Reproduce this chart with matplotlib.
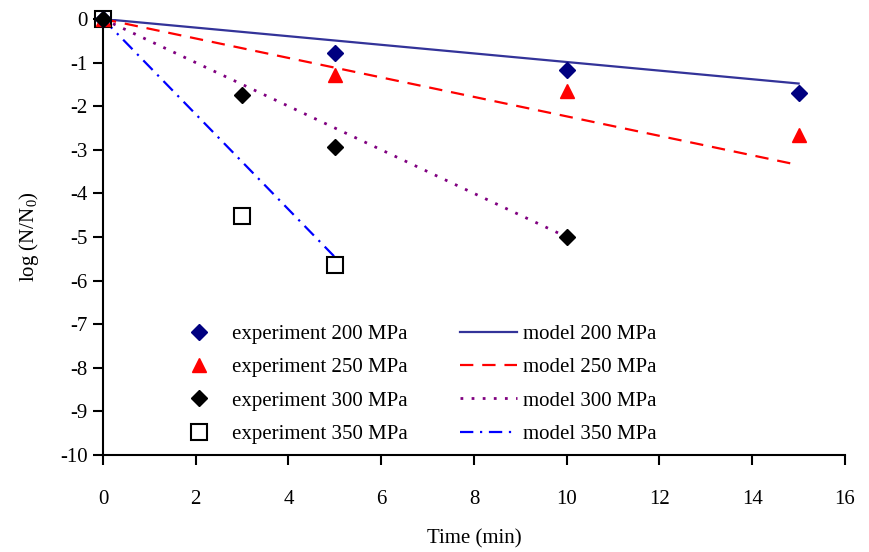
import matplotlib
matplotlib.use("Agg")
import matplotlib.pyplot as plt

plt.rcParams['font.family'] = ['Liberation Serif', 'DejaVu Serif']
plt.rcParams['axes.unicode_minus'] = False
plt.rcParams['mathtext.fontset'] = 'custom'
plt.rcParams['mathtext.rm'] = 'Liberation Serif'

# experimental data
t200 = [0, 5, 10, 15]
y200 = [0, -0.77, -1.18, -1.70]
t250 = [0, 5, 10, 15]
y250 = [0, -1.29, -1.65, -2.65]
t300 = [0, 3, 5, 10]
y300 = [0, -1.75, -2.93, -5.00]
t350 = [0, 3, 5]
y350 = [0, -4.52, -5.64]

# model lines (start, end)
mt200 = [0, 15]; my200 = [0, -1.48]
mt250 = [0, 15]; my250 = [0, -3.35]
mt300 = [0, 10]; my300 = [0, -5.00]
mt350 = [0, 5];  my350 = [0, -5.46]

fig = plt.figure(figsize=(8.7, 5.52), dpi=100)
ax = fig.add_axes([103/870, 1-455/552, (845-103)/870, (455-19)/552])

l1, = ax.plot(mt200, my200, color='#333399', lw=1.6, ls='-', zorder=2)
l2, = ax.plot(mt250, my250, color='#ff0000', lw=1.6, ls=(0, (6, 4)), zorder=2)
l3, = ax.plot(mt300, my300, color='#800080', lw=2, ls=(0, (1, 3)), zorder=2)
l4, = ax.plot(mt350, my350, color='#0000ff', lw=1.6, ls=(0, (6, 3, 1, 3)), zorder=2)

m4, = ax.plot(t350, y350, ls='none', marker='s', ms=12, mfc='white', mec='black', mew=1.5, zorder=3, clip_on=False)
m2, = ax.plot(t250, y250, ls='none', marker='^', ms=10, color='#ff0000', zorder=4, clip_on=False)
m1, = ax.plot(t200, y200, ls='none', marker='D', ms=8, color='#000080', zorder=5, clip_on=False)
m3, = ax.plot(t300, y300, ls='none', marker='D', ms=8, color='black', zorder=6, clip_on=False)

ax.set_xlim(0, 16)
ax.set_ylim(-10, 0)
ax.set_xticks(range(0, 17, 2))
ax.set_yticks(range(-10, 1, 1))
for s in ['top', 'right']:
    ax.spines[s].set_visible(False)
for s in ['left', 'bottom']:
    ax.spines[s].set_linewidth(1.5)
ax.tick_params(axis='both', direction='out', length=7, width=1.5, labelsize=15)
ax.tick_params(axis='x', pad=18)
ax.tick_params(axis='y', pad=4)
ax.set_xlabel('Time (min)', fontsize=15, labelpad=15)
ax.set_ylabel('log (N/N$_0$)', fontsize=15, labelpad=14)
ax.patch.set_alpha(0)

leg1 = ax.legend([m1, m2, m3, m4],
                 ['experiment 200 MPa', 'experiment 250 MPa', 'experiment 300 MPa', 'experiment 350 MPa'],
                 loc='upper left', bbox_to_anchor=(175/870, 1-316/552), bbox_transform=fig.transFigure,
                 frameon=False, fontsize=15, handlelength=1.5, handletextpad=0.85, labelspacing=0.66,
                 borderaxespad=0, borderpad=0.4)
ax.add_artist(leg1)
ax.legend([l1, l2, l3, l4],
          ['model 200 MPa', 'model 250 MPa', 'model 300 MPa', 'model 350 MPa'],
          loc='upper left', bbox_to_anchor=(452/870, 1-316/552), bbox_transform=fig.transFigure,
          frameon=False, fontsize=15, handlelength=2.7, handletextpad=0.3, labelspacing=0.66,
          borderaxespad=0, borderpad=0.4)

fig.savefig('out.png', dpi=100)
